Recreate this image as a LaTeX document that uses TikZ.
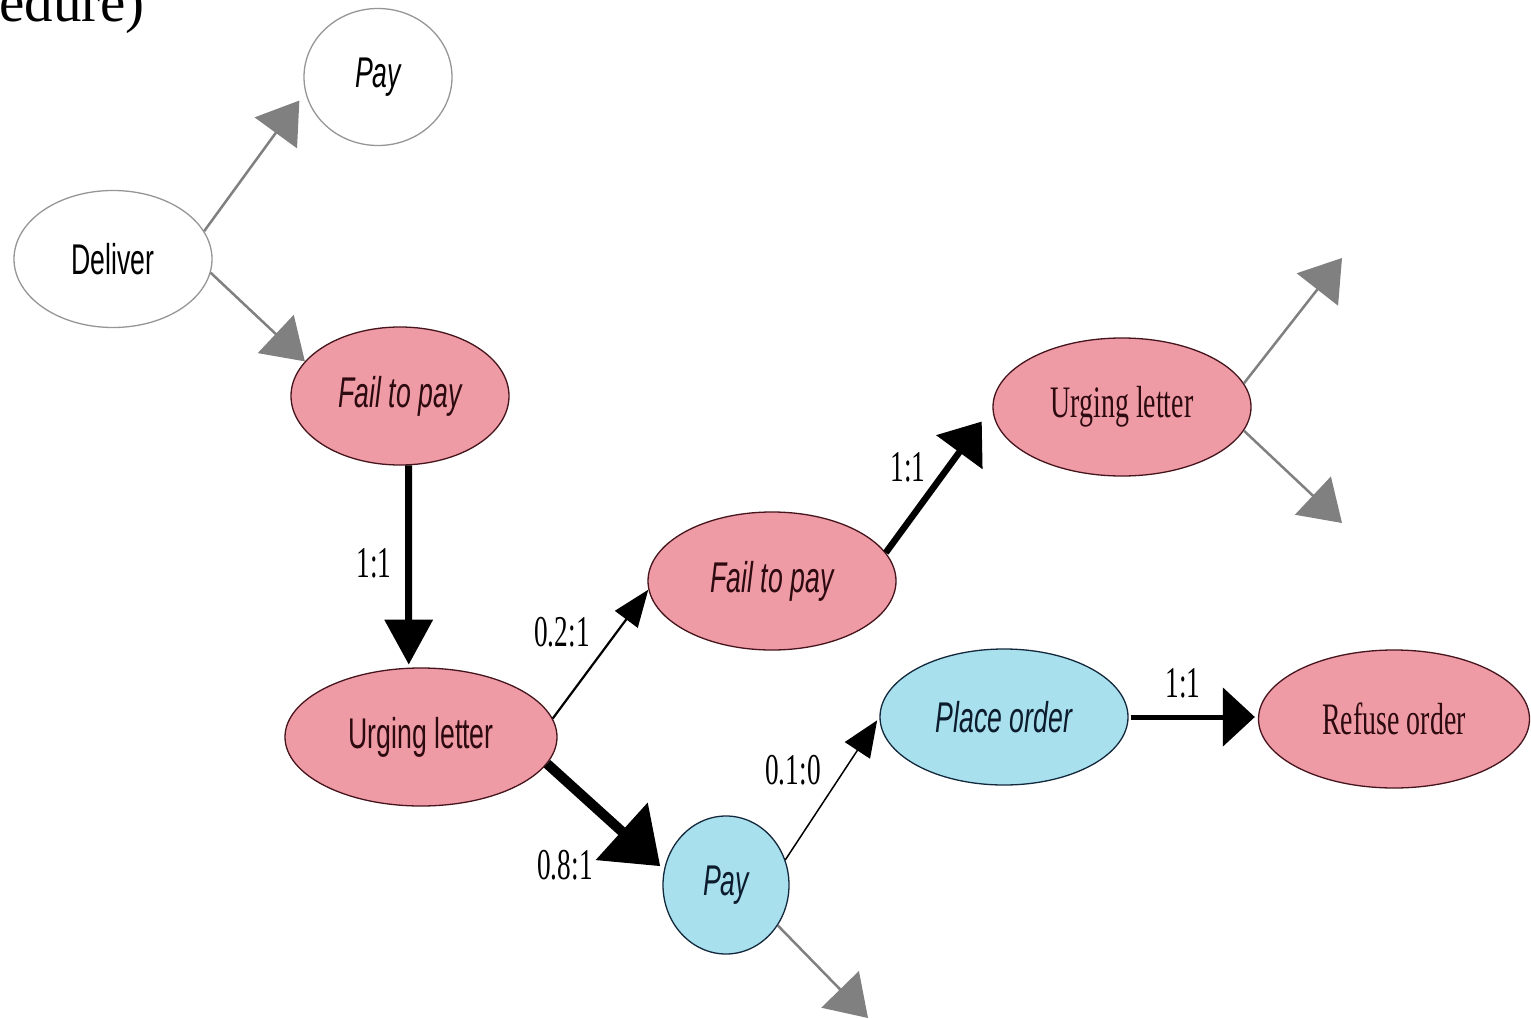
\documentclass[tikz,border=0pt]{standalone}
\usepackage{fontspec}
\setmainfont{Liberation Serif}
\setsansfont{Liberation Sans}
\usepackage{graphicx}
\usetikzlibrary{shapes.geometric,arrows.meta}
\definecolor{pinkfill}{RGB}{238,155,165}
\definecolor{bluefill}{RGB}{168,224,238}
\definecolor{pinkline}{RGB}{70,20,28}
\definecolor{pinktext}{RGB}{45,10,16}
\definecolor{blueline}{RGB}{20,40,60}
\definecolor{bluetext}{RGB}{12,28,45}
\definecolor{grayarrow}{RGB}{128,128,128}
\definecolor{whiteline}{RGB}{150,150,150}
\newcommand{\sqz}[1]{\scalebox{0.62}[1]{#1}}
\begin{document}
\begin{tikzpicture}[x=1pt,y=-1pt,
  ev/.style={ellipse, inner sep=0pt, line width=1.3pt},
  whiteev/.style={ev, draw=whiteline, fill=white, text=black},
  pinkev/.style={ev, draw=pinkline, fill=pinkfill, text=pinktext},
  blueev/.style={ev, draw=blueline, fill=bluefill, text=bluetext},
  sanslab/.style={font=\sffamily\fontsize{43}{43}\selectfont},
  itlab/.style={font=\sffamily\itshape\fontsize{43}{43}\selectfont},
  seriflab/.style={font=\rmfamily\fontsize{45}{45}\selectfont},
  elab/.style={font=\rmfamily\fontsize{44}{44}\selectfont, inner sep=0pt, text=black},
  grayarr/.style={draw=grayarrow, fill=grayarrow, line width=2.5pt, -{Triangle[length=40pt,width=52pt]}},
  blkA/.style={draw=black, line width=7pt, -{Triangle[length=45pt,width=47pt]}},
  blkB/.style={draw=black, line width=10pt, -{Triangle[length=52pt,width=75pt]}},
  blkC/.style={draw=black, line width=6.5pt, -{Triangle[length=38pt,width=56pt]}},
  blkD/.style={draw=black, line width=5pt, -{Triangle[length=32pt,width=58pt]}},
  thinA/.style={draw=black, line width=2.2pt, -{Triangle[length=37pt,width=28pt]}},
  thinB/.style={draw=black, line width=1.5pt, -{Triangle[length=36pt,width=30pt]}},
]
\fill[white] (0,0) rectangle (1531,1019);
\useasboundingbox (0,0) rectangle (1531,1019);

\node[anchor=base west, inner sep=0pt, font=\rmfamily\fontsize{57}{57}\selectfont] (title) at (-1,22) {edure)};

\node[whiteev, itlab, minimum width=148pt, minimum height=137pt] (pay0) at (378,77) {\sqz{Pay}};
\node[whiteev, sanslab, minimum width=198pt, minimum height=137pt] (deliver) at (113,259) {\sqz{Deliver}};
\node[pinkev, itlab, minimum width=218pt, minimum height=138pt] (fail1) at (400,396) {\sqz{Fail to pay}};
\node[pinkev, sanslab, minimum width=272pt, minimum height=138pt] (urg1) at (421,737) {\sqz{Urging letter}};
\node[pinkev, itlab, minimum width=248pt, minimum height=138pt] (fail2) at (772,581) {\sqz{Fail to pay}};
\node[pinkev, seriflab, minimum width=258pt, minimum height=138pt] (urg2) at (1122,407) {\sqz{Urging letter}};
\node[blueev, itlab, minimum width=248pt, minimum height=136pt] (place) at (1004,717) {\sqz{Place order}};
\node[pinkev, seriflab, minimum width=271pt, minimum height=138pt] (refuse) at (1394,719) {\sqz{Refuse order}};
\node[blueev, itlab, minimum width=126pt, minimum height=138pt] (pay2) at (726,885) {\sqz{Pay}};

\coordinate (o1) at (1342,258);
\coordinate (o2) at (1342,523);
\coordinate (o3) at (868,1018);

\draw[grayarr, shorten >=10pt] (deliver.17) -- (pay0.192);
\draw[grayarr] (deliver.-8) -- (fail1.160);
\draw[blkA, shorten >=3pt] (fail1.277) -- (urg1.100);
\draw[thinA] (urg1.8) -- (fail2.184);
\draw[blkB, shorten >=5pt] (urg1.-12) -- (pay2.166);
\draw[blkC, shorten >=18pt] (fail2.14) -- (urg2.180);
\draw[thinB, shorten >=4pt] (pay2.23) -- (place.180);
\draw[blkD, shorten >=3pt, shorten <=2pt] (place.east) -- (place.east -| refuse.west);
\draw[grayarr] (urg2.11) -- (o1);
\draw[grayarr] (urg2.-11) -- (o2);
\draw[grayarr] (pay2.-38) -- (o3);

\node[elab] (l1) at (374,563) {\sqz{1:1}};
\node[elab] (l2) at (562,632) {\sqz{0.2:1}};
\node[elab] (l3) at (565,865) {\sqz{0.8:1}};
\node[elab] (l4) at (908,467) {\sqz{1:1}};
\node[elab] (l5) at (793,770) {\sqz{0.1:0}};
\node[elab] (l6) at (1183,683) {\sqz{1:1}};
\end{tikzpicture}
\end{document}
